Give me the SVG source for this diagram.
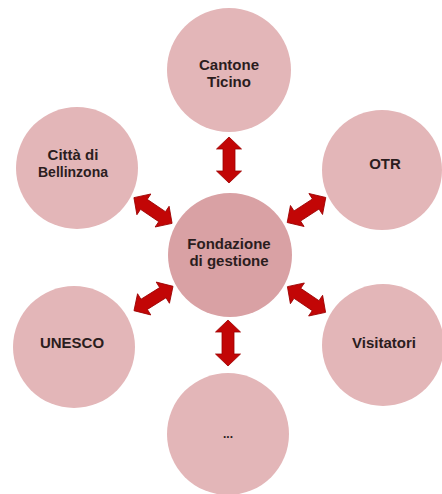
<svg xmlns="http://www.w3.org/2000/svg" xmlns:xlink="http://www.w3.org/1999/xlink" width="442" height="494" viewBox="0 0 442 494">
<style>
.node{fill:#e3b6b8}
.hub{fill:#d9a1a4}
.lbl{font-family:"Liberation Sans",Arial,sans-serif;font-weight:bold;font-size:15px;fill:#2b1d1e;text-anchor:middle}
.arr{fill:#c20606;stroke:#9c0000;stroke-width:0.8;stroke-linejoin:round}
</style>
<defs>
<polygon id="dbl" points="-23,0 -11,-12.5 -11,-6 11,-6 11,-12.5 23,0 11,12.5 11,6 -11,6 -11,12.5"/>
</defs>
<rect width="442" height="494" fill="#ffffff"/>
<g id="connectors">
<use xlink:href="#dbl" href="#dbl" class="arr" transform="translate(229,160) rotate(90)"/>
<use xlink:href="#dbl" href="#dbl" class="arr" transform="translate(228,343) rotate(90)"/>
<use xlink:href="#dbl" href="#dbl" class="arr" transform="translate(153,210.5) rotate(34)"/>
<use xlink:href="#dbl" href="#dbl" class="arr" transform="translate(306.5,210) rotate(-33)"/>
<use xlink:href="#dbl" href="#dbl" class="arr" transform="translate(153.5,298.5) rotate(-32)"/>
<use xlink:href="#dbl" href="#dbl" class="arr" transform="translate(306.5,299.5) rotate(34)"/>
</g>
<g id="cantone">
<circle class="node" cx="229" cy="70" r="62"/>
<text class="lbl" x="229" y="70">Cantone</text>
<text class="lbl" x="229" y="87">Ticino</text>
</g>
<g id="bellinzona">
<circle class="node" cx="77" cy="168" r="61"/>
<text class="lbl" x="73" y="160">Città di</text>
<text class="lbl" x="73" y="177" style="font-size:14px">Bellinzona</text>
</g>
<g id="otr">
<circle class="node" cx="382" cy="170" r="60"/>
<text class="lbl" x="385" y="169">OTR</text>
</g>
<g id="fondazione">
<circle class="hub" cx="230" cy="255" r="62"/>
<text class="lbl" x="229" y="249">Fondazione</text>
<text class="lbl" x="229" y="266">di gestione</text>
</g>
<g id="unesco">
<circle class="node" cx="74" cy="347" r="61"/>
<text class="lbl" x="72" y="348">UNESCO</text>
</g>
<g id="visitatori">
<circle class="node" cx="383" cy="345" r="61"/>
<text class="lbl" x="384" y="348">Visitatori</text>
</g>
<g id="altro">
<circle class="node" cx="228" cy="434" r="61"/>
<text class="lbl" x="228" y="438" style="font-size:12px">...</text>
</g>
</svg>
